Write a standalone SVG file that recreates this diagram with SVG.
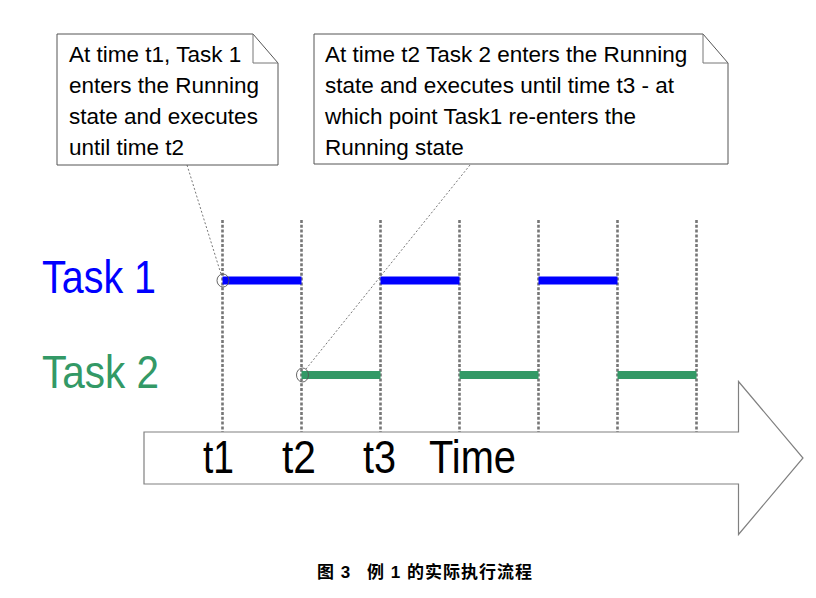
<svg xmlns="http://www.w3.org/2000/svg" width="816" height="598" viewBox="0 0 816 598">
<style>
.note{fill:#fff;stroke:#555;stroke-width:1}
.fold{fill:none;stroke:#777;stroke-width:1}
.nt{font-family:"Liberation Sans",Arial,sans-serif;font-size:22.5px;fill:#000}
.grid{stroke:#767676;stroke-width:2.6;stroke-dasharray:3 1.8}
.ptr{stroke:#555;stroke-width:0.8;stroke-dasharray:2 2;fill:none}
.big{font-family:"Liberation Sans",Arial,sans-serif;font-size:46px}
.t1bar{stroke:#0000ff;stroke-width:8}
.t2bar{stroke:#339966;stroke-width:8}
.cap{font-family:"Liberation Sans","Noto Sans CJK SC",sans-serif;font-size:17px;font-weight:bold;fill:#000;letter-spacing:1px}
</style>
<rect width="816" height="598" fill="#fff"/>
<g id="grid">
<line class="grid" x1="222.5" y1="220" x2="222.5" y2="432"/>
<line class="grid" x1="301.5" y1="220" x2="301.5" y2="432"/>
<line class="grid" x1="380.5" y1="220" x2="380.5" y2="432"/>
<line class="grid" x1="459.5" y1="220" x2="459.5" y2="432"/>
<line class="grid" x1="538.5" y1="220" x2="538.5" y2="432"/>
<line class="grid" x1="617.5" y1="220" x2="617.5" y2="432"/>
<line class="grid" x1="696.5" y1="220" x2="696.5" y2="432"/>
</g>
<g id="task1-bars">
<line class="t1bar" x1="222.5" y1="280.5" x2="301.5" y2="280.5"/>
<line class="t1bar" x1="380.5" y1="280.5" x2="459.5" y2="280.5"/>
<line class="t1bar" x1="538.5" y1="280.5" x2="617.5" y2="280.5"/>
</g>
<g id="task2-bars">
<line class="t2bar" x1="301.5" y1="375" x2="380.5" y2="375"/>
<line class="t2bar" x1="459.5" y1="375" x2="538.5" y2="375"/>
<line class="t2bar" x1="617.5" y1="375" x2="696.5" y2="375"/>
</g>
<g id="labels">
<text class="big" x="42" y="292.5" fill="#0000ff" textLength="114" lengthAdjust="spacingAndGlyphs">Task 1</text>
<text class="big" x="42" y="388" fill="#339966" textLength="117" lengthAdjust="spacingAndGlyphs">Task 2</text>
</g>
<g id="time-arrow">
<path d="M144,432 H738.5 V381.5 L803,458 L738.5,534.5 V484 H144 Z" fill="#fff" stroke="#808080" stroke-width="1.2"/>
<text class="big" x="203" y="473" fill="#000" textLength="31" lengthAdjust="spacingAndGlyphs">t1</text>
<text class="big" x="282" y="473" fill="#000" textLength="34" lengthAdjust="spacingAndGlyphs">t2</text>
<text class="big" x="363" y="473" fill="#000" textLength="33" lengthAdjust="spacingAndGlyphs">t3</text>
<text class="big" x="429" y="473" fill="#000" textLength="87" lengthAdjust="spacingAndGlyphs">Time</text>
</g>
<g id="connectors">
<path class="ptr" d="M187,165 L221,274"/>
<path class="ptr" d="M470,165 L306,369"/>
<ellipse cx="223" cy="280.5" rx="6" ry="6.5" fill="none" stroke="#555" stroke-width="0.9"/>
<ellipse cx="302.5" cy="375" rx="6" ry="7" fill="none" stroke="#555" stroke-width="0.9"/>
</g>
<g id="note1">
<path class="note" d="M57,34 H253 L278,63 V165 H57 Z"/>
<path class="fold" d="M253,34 V63 H278"/>
<text class="nt" x="69" y="61.5">At time t1, Task 1</text>
<text class="nt" x="69" y="92.5">enters the Running</text>
<text class="nt" x="69" y="123.5">state and executes</text>
<text class="nt" x="69" y="154.5">until time t2</text>
</g>
<g id="note2">
<path class="note" d="M314,34 H703 L728,63 V164 H314 Z"/>
<path class="fold" d="M703,34 V63 H728"/>
<text class="nt" x="325" y="61.5">At time t2 Task 2 enters the Running</text>
<text class="nt" x="325" y="92.5">state and executes until time t3 - at</text>
<text class="nt" x="325" y="123.5">which point Task1 re-enters the</text>
<text class="nt" x="325" y="154.5">Running state</text>
</g>
<g id="caption">
<text class="cap" x="317" y="578">图 3</text>
<text class="cap" x="367" y="578">例 1 的实际执行流程</text>
</g>
</svg>
